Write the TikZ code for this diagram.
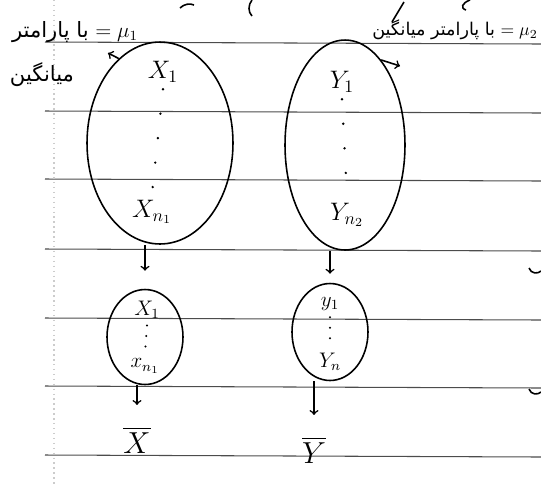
\documentclass[tikz,border=0pt]{standalone}
\usepackage{fontspec}
\usepackage{amsmath}
\usepackage{tikz}
\usetikzlibrary{shapes.geometric}
\newfontfamily\arabicfont[Script=Arabic]{DejaVu Sans}
\TeXXeTstate=1

\begin{document}
\begin{tikzpicture}[x=0.02cm, y=-0.02cm, line width=0.9pt,
    ruled/.style={black!70, line width=0.6pt},
    blob/.style={draw, ellipse, inner sep=0pt},
    bigdots/.style={line width=1.5pt, line cap=round, dash pattern=on 0pt off 14pt},
    smalldots/.style={line width=1.3pt, line cap=round, dash pattern=on 0pt off 6pt}]
    \useasboundingbox (0,0) rectangle (541,485);

    % Paper
    \foreach \y in {42,111,179,249,318,386,455}
        \draw[ruled] (45,\y) -- (541,\y+2);
    \draw[black!20, dotted, line width=0.8pt] (54,0) -- (54,485);
    \draw (180,8) .. controls (184,4) and (190,3) .. (194,5);
    \draw (252,0) .. controls (248,5) and (248,12) .. (252,16);
    \draw (404,2) -- (392,22);
    \draw (470,0) .. controls (462,3) and (460,8) .. (466,10);
    \draw (529,268) .. controls (531,274) and (538,274) .. (541,271);
    \draw (529,389) .. controls (531,395) and (538,395) .. (541,392);

    % Ellipses
    \node[blob, minimum width=2.92cm, minimum height=4.04cm] (popX) at (160,143) {};
    \node[blob, minimum width=2.4cm, minimum height=4.2cm] (popY) at (345,145) {};
    \node[blob, minimum width=1.52cm, minimum height=1.9cm] (sampX) at (145,337) {};
    \node[blob, minimum width=1.52cm, minimum height=1.94cm] (sampY) at (330,332) {};

    % Members
    \node[font=\Large] (X1) at (163,72) {$X_1$};
    \node[font=\Large] (Xn) at (152,212) {$X_{n_1}$};
    \node[font=\Large] (Y1) at (342,82) {$Y_1$};
    \node[font=\Large] (Yn) at (347,215) {$Y_{n_2}$};
    \node[font=\large] (x1) at (147,310) {$X_1$};
    \node[font=\large] (xn) at (145,366) {$x_{n_1}$};
    \node[font=\large] (y1) at (330,304) {$y_1$};
    \node[font=\large] (yn) at (330,362) {$Y_n$};
    \draw[bigdots] (X1.south) -- (Xn.north);
    \draw[bigdots] (Y1.south) -- (Yn.north);
    \draw[smalldots] (x1.south) -- (xn.north);
    \draw[smalldots] (y1.south) -- (yn.north);

    % Means
    \node[font=\LARGE] (Xbar) at (137,440) {$\overline{X}$};
    \node[font=\LARGE] (Ybar) at (314,450) {$\overline{Y}$};

    % Labels
    \node[font=\large] (lblXa) at (75,32) {\arabicfont\beginR\beginL$=\mu_1$\endL{} با پارامتر\endR};
    \node[font=\large] (lblXb) at (42,75) {\arabicfont\beginR میانگین\endR};
    \node (lblY) at (455,30) {\arabicfont\beginR\beginL$=\mu_2$\endL{} با پارامتر میانگین\endR};
    \coordinate (tipX) at (108,53);
    \coordinate (tipY) at (400,66);

    % Arrows
    \draw[->] (popX.116) -- (tipX);
    \draw[->] (popY.67) -- (tipY);
    \draw[->, shorten >=0.36cm] (popX.south -| sampX) -- (sampX);
    \draw[->, shorten >=0.18cm] (sampY.north |- popY.south) -- (sampY.north);
    \draw[->, shorten >=0.3cm] (sampX.south -| Xbar) -- (Xbar);
    \draw[->, shorten >=0.3cm] (sampY.south -| Ybar) -- (Ybar);
\end{tikzpicture}
\end{document}
